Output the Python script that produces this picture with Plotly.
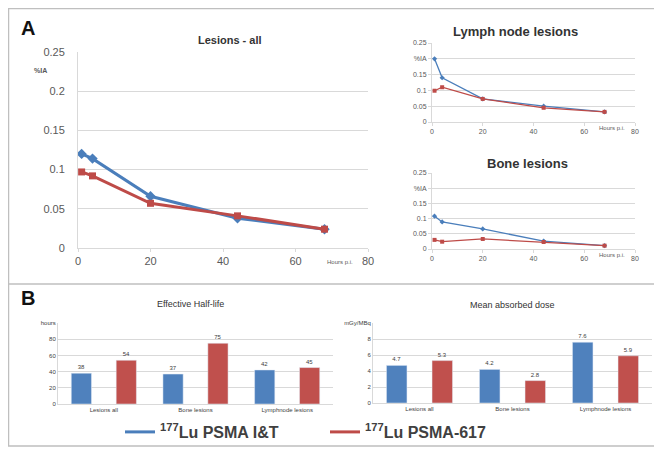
import plotly.graph_objects as go

# ---------------- data ----------------
hours = [1, 4, 20, 44, 68]
all_it = [0.120, 0.114, 0.066, 0.038, 0.024]
all_617 = [0.097, 0.092, 0.057, 0.041, 0.024]
lymph_it = [0.200, 0.140, 0.073, 0.050, 0.032]
lymph_617 = [0.099, 0.110, 0.073, 0.045, 0.032]
bone_it = [0.108, 0.089, 0.066, 0.026, 0.011]
bone_617 = [0.030, 0.024, 0.033, 0.023, 0.011]

bar_cats = ["Lesions all", "Bone lesions", "Lymphnode lesions"]
halflife_it = [38, 37, 42]
halflife_617 = [54, 75, 45]
dose_it = [4.7, 4.2, 7.6]
dose_617 = [5.3, 2.8, 5.9]

line_ticks = [0, 0.05, 0.1, 0.15, 0.2, 0.25]
small_ticktext = ["0", "0.05", "0.1", "0.15", "%IA", "0.25"]
hl_ticks = [0, 20, 40, 60, 80, 100]
hl_ticktext = ["0", "20", "40", "60", "80", "hours"]
dose_ticks = [0, 2, 4, 6, 8, 10]
dose_ticktext = ["0", "2", "4", "6", "8", "mGy/MBq"]

BLUE = "#4a7ebb"
RED = "#be4b48"
BBLUE = "#4f81bd"
BRED = "#c0504d"
GRID = "#d9d9d9"
TXT = "#595959"
FONT = "Liberation Sans"

OFF = 8  # page body margin
W, H = 654, 442
def px(x):
    return (x - OFF) / W
def py(y):
    return 1 - (y - OFF) / H

fig = go.Figure()

# ---- Panel A main ----
fig.add_trace(go.Scatter(x=hours, y=all_it, mode="lines+markers", xaxis="x", yaxis="y",
                         line=dict(color=BLUE, width=3), marker=dict(symbol="diamond", size=8, color=BLUE),
                         showlegend=False))
fig.add_trace(go.Scatter(x=hours, y=all_617, mode="lines+markers", xaxis="x", yaxis="y",
                         line=dict(color=RED, width=3), marker=dict(symbol="square", size=7, color=RED),
                         showlegend=False))
# ---- Lymph ----
fig.add_trace(go.Scatter(x=hours, y=lymph_it, mode="lines+markers", xaxis="x2", yaxis="y2",
                         line=dict(color=BLUE, width=1.3), marker=dict(symbol="diamond", size=4, color=BLUE),
                         showlegend=False))
fig.add_trace(go.Scatter(x=hours, y=lymph_617, mode="lines+markers", xaxis="x2", yaxis="y2",
                         line=dict(color=RED, width=1.3), marker=dict(symbol="square", size=4, color=RED),
                         showlegend=False))
# ---- Bone ----
fig.add_trace(go.Scatter(x=hours, y=bone_it, mode="lines+markers", xaxis="x3", yaxis="y3",
                         line=dict(color=BLUE, width=1.3), marker=dict(symbol="diamond", size=4, color=BLUE),
                         showlegend=False))
fig.add_trace(go.Scatter(x=hours, y=bone_617, mode="lines+markers", xaxis="x3", yaxis="y3",
                         line=dict(color=RED, width=1.3), marker=dict(symbol="square", size=4, color=RED),
                         showlegend=False))
# ---- Half-life bars ----
fig.add_trace(go.Bar(x=bar_cats, y=halflife_it, xaxis="x4", yaxis="y4", marker_color=BBLUE,
                     text=[f"{v}" for v in halflife_it], textposition="outside",
                     textfont=dict(size=6, color="#404040"), cliponaxis=False, showlegend=False))
fig.add_trace(go.Bar(x=bar_cats, y=halflife_617, xaxis="x4", yaxis="y4", marker_color=BRED,
                     text=[f"{v}" for v in halflife_617], textposition="outside",
                     textfont=dict(size=6, color="#404040"), cliponaxis=False, showlegend=False))
# ---- Dose bars ----
fig.add_trace(go.Bar(x=bar_cats, y=dose_it, xaxis="x5", yaxis="y5", marker_color=BBLUE,
                     text=[f"{v:.1f}" for v in dose_it], textposition="outside",
                     textfont=dict(size=6, color="#404040"), cliponaxis=False, showlegend=False))
fig.add_trace(go.Bar(x=bar_cats, y=dose_617, xaxis="x5", yaxis="y5", marker_color=BRED,
                     text=[f"{v:.1f}" for v in dose_617], textposition="outside",
                     textfont=dict(size=6, color="#404040"), cliponaxis=False, showlegend=False))
# ---- legend entries ----
fig.add_trace(go.Scatter(x=[None], y=[None], mode="lines", line=dict(color=BLUE, width=3),
                         name="<b><sup>177</sup>Lu PSMA I&T</b>", xaxis="x", yaxis="y"))
fig.add_trace(go.Scatter(x=[None], y=[None], mode="lines", line=dict(color=RED, width=3),
                         name="<b><sup>177</sup>Lu PSMA-617</b>", xaxis="x", yaxis="y"))

def line_x(domain, size):
    return dict(domain=domain, range=[0, 80], tickvals=[0, 20, 40, 60, 80], showgrid=False,
                showline=True, linecolor=GRID, ticks="outside", ticklen=3, tickcolor=GRID,
                tickfont=dict(size=size, color=TXT), zeroline=False, automargin=False)

def line_y(domain, size, ticktext, anchor):
    return dict(domain=domain, range=[0, 0.25], tickvals=line_ticks, ticktext=ticktext,
                showgrid=True, gridcolor=GRID, gridwidth=1, showline=True, linecolor=GRID,
                ticks="outside", ticklen=3, tickcolor=GRID, tickfont=dict(size=size, color=TXT),
                zeroline=False, anchor=anchor, automargin=False)

main_tt = ["0", "0.05", "0.1", "0.15", "0.2", "0.25"]

fig.update_layout(
    width=W, height=H, margin=dict(l=0, r=0, t=0, b=0, autoexpand=False),
    paper_bgcolor="white", plot_bgcolor="white",
    font=dict(family=FONT, color=TXT),
    barmode="group", bargap=0.02, bargroupgap=0.55,
    xaxis=dict(line_x([px(78), px(368)], 11), anchor="y"),
    yaxis=dict(line_y([py(248), py(52)], 11, main_tt, "x"), ticklen=10, ticks="outside", tickcolor="white"),
    xaxis2=dict(line_x([px(432), px(635)], 7), anchor="y2"),
    yaxis2=line_y([py(122), py(43)], 7, small_ticktext, "x2"),
    xaxis3=dict(line_x([px(432), px(635)], 7), anchor="y3"),
    yaxis3=line_y([py(249), py(173)], 7, small_ticktext, "x3"),
    xaxis4=dict(domain=[px(58), px(333)], anchor="y4", showline=True, linecolor=GRID,
                tickfont=dict(size=6, color="#404040"), ticks="", automargin=False),
    yaxis4=dict(domain=[py(404), py(323)], anchor="x4", range=[0, 100], tickvals=hl_ticks,
                ticktext=hl_ticktext, showgrid=True, gridcolor=GRID, showline=True, linecolor=GRID,
                tickfont=dict(size=6, color="#404040"), zeroline=False, automargin=False),
    xaxis5=dict(domain=[px(373), px(652)], anchor="y5", showline=True, linecolor=GRID,
                tickfont=dict(size=6, color="#404040"), ticks="", automargin=False),
    yaxis5=dict(domain=[py(403), py(323)], anchor="x5", range=[0, 10], tickvals=dose_ticks,
                ticktext=dose_ticktext, showgrid=True, gridcolor=GRID, showline=True, linecolor=GRID,
                tickfont=dict(size=6, color="#404040"), zeroline=False, automargin=False),
    legend=dict(orientation="h", x=px(120), xanchor="left", y=py(432), yanchor="middle",
                font=dict(size=16, color="#404040", family=FONT), itemwidth=30,
                entrywidth=160, bgcolor="rgba(0,0,0,0)", traceorder="normal"),
)

ann = [
    dict(text="<b>A</b>", x=px(28), y=py(28), size=20, color="#111111"),
    dict(text="<b>B</b>", x=px(28), y=py(298), size=20, color="#111111"),
    dict(text="<b>Lesions - all</b>", x=px(230), y=py(40), size=11, color="#333333"),
    dict(text="<b>Lymph node lesions</b>", x=px(515), y=py(31), size=13, color="#333333"),
    dict(text="<b>Bone lesions</b>", x=px(527), y=py(163), size=13, color="#333333"),
    dict(text="Effective Half-life", x=px(190), y=py(304), size=9, color="#333333"),
    dict(text="Mean absorbed dose", x=px(512), y=py(305), size=9, color="#333333"),
    dict(text="<b>%IA</b>", x=px(40), y=py(71), size=7, color=TXT),
    dict(text="Hours p.i.", x=px(340), y=py(262), size=6, color=TXT),
    dict(text="Hours p.i.", x=px(612), y=py(128), size=6, color=TXT),
    dict(text="Hours p.i.", x=px(612), y=py(255), size=6, color=TXT),
]
for a in ann:
    fig.add_annotation(text=a["text"], x=a["x"], y=a["y"], xref="paper", yref="paper",
                       showarrow=False, xanchor="center", yanchor="middle",
                       font=dict(size=a["size"], color=a["color"], family=FONT))

fig.add_shape(type="rect", xref="paper", yref="paper", x0=px(8.5), x1=px(655), y0=py(446), y1=py(8.5),
              line=dict(color="#bfbfbf", width=1.5))
fig.add_shape(type="line", xref="paper", yref="paper", x0=px(8), x1=px(655), y0=py(284), y1=py(284),
              line=dict(color="#bfbfbf", width=1.5))

fig.write_html("out.html")
